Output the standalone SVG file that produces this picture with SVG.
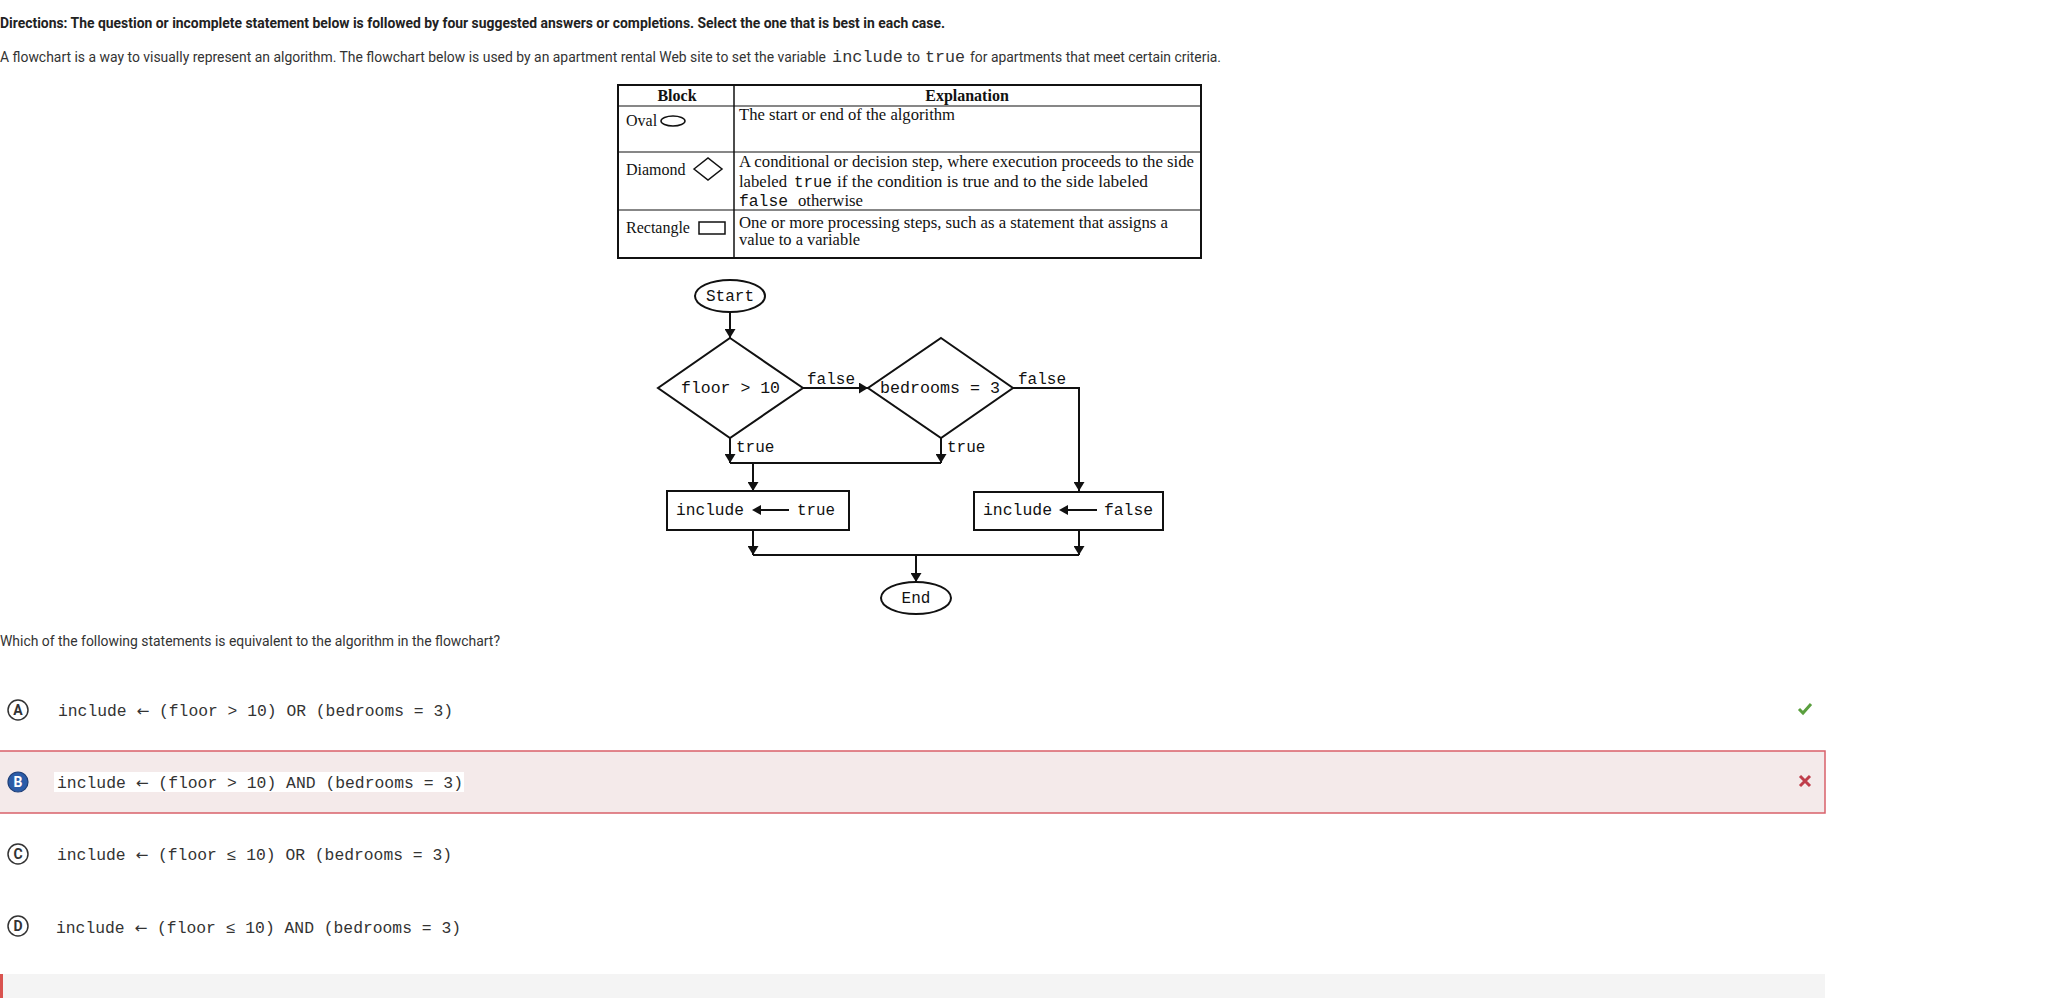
<svg xmlns="http://www.w3.org/2000/svg" width="2064" height="998" viewBox="0 0 2064 998">
<defs>
<style>
.sans{font-family:Roboto,"Liberation Sans",Arial,sans-serif;fill:#222;}
.hd{font-size:14px;font-weight:700;}
.body{font-size:14px;fill:#333;}
.mono{font-family:"Courier New","Liberation Mono",monospace;}
.tm{font-family:"Liberation Serif","Times New Roman",serif;font-size:16px;fill:#111;}
.tmb{font-family:"Liberation Serif","Times New Roman",serif;font-size:16px;font-weight:700;fill:#111;}
.fc{font-family:"Courier New","Liberation Mono",monospace;font-size:16px;fill:#111;}
.ln{stroke:#111;stroke-width:2;fill:none;}
.shape{stroke:#111;stroke-width:2;fill:#fff;}
.ans{font-family:"Courier New","Liberation Mono",monospace;font-size:16px;fill:#333;}
.arw{font-family:"DejaVu Sans",sans-serif;font-size:15px;}
.let{font-family:Roboto,"Liberation Sans",Arial,sans-serif;font-size:14px;font-weight:700;text-anchor:middle;}
</style>
<marker id="arr" markerUnits="userSpaceOnUse" markerWidth="11" markerHeight="11" refX="9" refY="5.5" orient="auto">
<path d="M0,0 L9,5.5 L0,11 z" fill="#111"/>
</marker>
</defs>
<rect x="0" y="0" width="2064" height="998" fill="#fff"/>

<g id="header">
<text class="sans hd" x="0" y="28" textLength="945" lengthAdjust="spacingAndGlyphs">Directions: The question or incomplete statement below is followed by four suggested answers or completions. Select the one that is best in each case.</text>
<text class="sans body" x="0" y="62" textLength="826" lengthAdjust="spacingAndGlyphs">A flowchart is a way to visually represent an algorithm. The flowchart below is used by an apartment rental Web site to set the variable</text>
<text class="mono" x="832" y="62" font-size="16.5" fill="#333" textLength="71" lengthAdjust="spacingAndGlyphs">include</text>
<text class="sans body" x="907" y="62" textLength="13" lengthAdjust="spacingAndGlyphs">to</text>
<text class="mono" x="925" y="62" font-size="16.5" fill="#333" textLength="40" lengthAdjust="spacingAndGlyphs">true</text>
<text class="sans body" x="970" y="62" textLength="251" lengthAdjust="spacingAndGlyphs">for apartments that meet certain criteria.</text>
</g>

<g id="legend-table">
<rect x="618" y="85" width="583" height="173" fill="#fff" stroke="#111" stroke-width="2"/>
<line x1="618" y1="106" x2="1201" y2="106" stroke="#111" stroke-width="1.2"/>
<line x1="618" y1="152" x2="1201" y2="152" stroke="#111" stroke-width="1.2"/>
<line x1="618" y1="210" x2="1201" y2="210" stroke="#111" stroke-width="1.2"/>
<line x1="734" y1="85" x2="734" y2="258" stroke="#111" stroke-width="1.5"/>
<text class="tmb" x="677" y="101" text-anchor="middle">Block</text>
<text class="tmb" x="967" y="101" text-anchor="middle">Explanation</text>
<text class="tm" x="626" y="126">Oval</text>
<ellipse cx="673" cy="121" rx="12" ry="5" fill="none" stroke="#111" stroke-width="1.5"/>
<text class="tm" x="739" y="120" textLength="216" lengthAdjust="spacingAndGlyphs">The start or end of the algorithm</text>
<text class="tm" x="626" y="175">Diamond</text>
<polygon points="694,169 708,158 722,169 708,180" fill="none" stroke="#111" stroke-width="1.5"/>
<text class="tm" x="739" y="167" textLength="455" lengthAdjust="spacingAndGlyphs">A conditional or decision step, where execution proceeds to the side</text>
<text class="tm" x="739" y="187" textLength="48" lengthAdjust="spacingAndGlyphs">labeled</text>
<text class="mono" x="794" y="187" font-size="16" fill="#111" textLength="38" lengthAdjust="spacingAndGlyphs">true</text>
<text class="tm" x="837" y="187" textLength="311" lengthAdjust="spacingAndGlyphs">if the condition is true and to the side labeled</text>
<text class="mono" x="739" y="206" font-size="16" fill="#111" textLength="49" lengthAdjust="spacingAndGlyphs">false</text>
<text class="tm" x="798" y="206" textLength="65" lengthAdjust="spacingAndGlyphs">otherwise</text>
<text class="tm" x="626" y="233">Rectangle</text>
<rect x="699" y="222" width="26" height="12" fill="none" stroke="#111" stroke-width="1.5"/>
<text class="tm" x="739" y="228" textLength="429" lengthAdjust="spacingAndGlyphs">One or more processing steps, such as a statement that assigns a</text>
<text class="tm" x="739" y="245" textLength="121" lengthAdjust="spacingAndGlyphs">value to a variable</text>
</g>

<g id="connectors">
<line class="ln" x1="730" y1="312" x2="730" y2="338" marker-end="url(#arr)"/>
<line class="ln" x1="803" y1="388" x2="868" y2="388" marker-end="url(#arr)"/>
<path class="ln" d="M1013,388 H1079 V491" marker-end="url(#arr)"/>
<line class="ln" x1="730" y1="438" x2="730" y2="463" marker-end="url(#arr)"/>
<line class="ln" x1="941" y1="438" x2="941" y2="463" marker-end="url(#arr)"/>
<path class="ln" d="M730,463 H941"/>
<line class="ln" x1="753" y1="463" x2="753" y2="491" marker-end="url(#arr)"/>
<line class="ln" x1="753" y1="530" x2="753" y2="555" marker-end="url(#arr)"/>
<line class="ln" x1="1079" y1="530" x2="1079" y2="555" marker-end="url(#arr)"/>
<path class="ln" d="M753,555 H1079"/>
<line class="ln" x1="916" y1="555" x2="916" y2="582" marker-end="url(#arr)"/>
<text class="fc" x="807" y="384">false</text>
<text class="fc" x="1018" y="384">false</text>
<text class="fc" x="736" y="452">true</text>
<text class="fc" x="947" y="452">true</text>
</g>

<g id="start">
<ellipse class="shape" cx="730" cy="296" rx="35" ry="16"/>
<text class="fc" x="730" y="301" text-anchor="middle">Start</text>
</g>
<g id="floor-decision">
<polygon class="shape" points="730,338 803,388 730,438 658,388"/>
<text class="fc" x="681" y="393" textLength="99" lengthAdjust="spacingAndGlyphs">floor &gt; 10</text>
</g>
<g id="bedrooms-decision">
<polygon class="shape" points="941,338 1013,388 941,438 868,388"/>
<text class="fc" x="880" y="393" textLength="120" lengthAdjust="spacingAndGlyphs">bedrooms = 3</text>
</g>
<g id="include-true">
<rect class="shape" x="667" y="491" width="182" height="39"/>
<text class="fc" x="676" y="515" textLength="68" lengthAdjust="spacingAndGlyphs">include</text>
<line x1="789" y1="510" x2="760" y2="510" stroke="#111" stroke-width="2"/>
<path d="M752,510 L761,505 L761,515 z" fill="#111"/>
<text class="fc" x="797" y="515" textLength="38" lengthAdjust="spacingAndGlyphs">true</text>
</g>
<g id="include-false">
<rect class="shape" x="974" y="492" width="189" height="38"/>
<text class="fc" x="983" y="515" textLength="69" lengthAdjust="spacingAndGlyphs">include</text>
<line x1="1097" y1="510" x2="1067" y2="510" stroke="#111" stroke-width="2"/>
<path d="M1059,510 L1068,505 L1068,515 z" fill="#111"/>
<text class="fc" x="1104" y="515" textLength="49" lengthAdjust="spacingAndGlyphs">false</text>
</g>
<g id="end">
<ellipse class="shape" cx="916" cy="598" rx="35" ry="16"/>
<text class="fc" x="916" y="603" text-anchor="middle">End</text>
</g>

<g id="question">
<text class="sans body" x="0" y="646" textLength="500" lengthAdjust="spacingAndGlyphs">Which of the following statements is equivalent to the algorithm in the flowchart?</text>
</g>

<g id="option-a">
<circle cx="18" cy="710" r="10" fill="#fff" stroke="#333" stroke-width="1.5"/>
<text class="let" x="18" y="715" fill="#333">A</text>
<text class="ans" x="58" y="716" textLength="395" lengthAdjust="spacingAndGlyphs">include <tspan class="arw">←</tspan> (floor &gt; 10) OR (bedrooms = 3)</text>
<path d="M1799,709 L1803,713 L1811,704" fill="none" stroke="#5a9f3e" stroke-width="3"/>
</g>

<g id="option-b">
<rect x="-2" y="751" width="1827" height="62" fill="#f4eaea" stroke="#d9606a" stroke-width="1.5"/>
<rect x="54" y="772" width="410" height="20" fill="#fff"/>
<circle cx="18" cy="782" r="10" fill="#2b5ca8" stroke="#1e3f78" stroke-width="1.2"/>
<text class="let" x="18" y="787" fill="#fff">B</text>
<text class="ans" x="57" y="788" textLength="406" lengthAdjust="spacingAndGlyphs">include <tspan class="arw">←</tspan> (floor &gt; 10) AND (bedrooms = 3)</text>
<path d="M1800,776 L1810,786 M1810,776 L1800,786" fill="none" stroke="#bf3d4a" stroke-width="3"/>
</g>

<g id="option-c">
<circle cx="18" cy="854" r="10" fill="#fff" stroke="#333" stroke-width="1.5"/>
<text class="let" x="18" y="859" fill="#333">C</text>
<text class="ans" x="57" y="860" textLength="395" lengthAdjust="spacingAndGlyphs">include <tspan class="arw">←</tspan> (floor ≤ 10) OR (bedrooms = 3)</text>
</g>

<g id="option-d">
<circle cx="18" cy="926" r="10" fill="#fff" stroke="#333" stroke-width="1.5"/>
<text class="let" x="18" y="931" fill="#333">D</text>
<text class="ans" x="56" y="933" textLength="405" lengthAdjust="spacingAndGlyphs">include <tspan class="arw">←</tspan> (floor ≤ 10) AND (bedrooms = 3)</text>
</g>

<g id="footer-bar">
<rect x="0" y="974" width="1825" height="30" fill="#f4f4f4"/>
<rect x="0" y="974" width="3" height="30" fill="#d9534f"/>
</g>
</svg>
